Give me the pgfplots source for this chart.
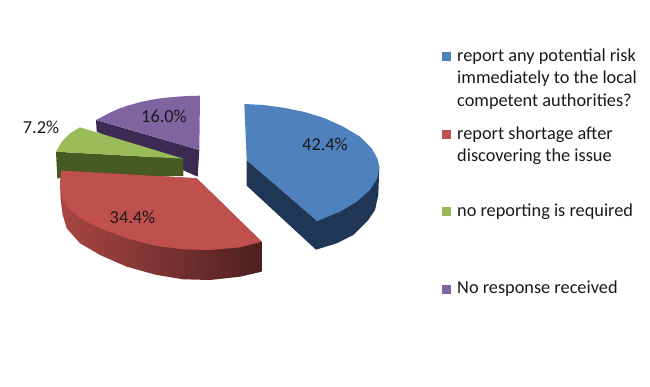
\documentclass[border=0pt]{standalone}
\usepackage{pgfplots}
\pgfplotsset{compat=1.18}
\usepackage{fontspec}
\setmainfont{Carlito}
\definecolor{cb}{HTML}{4F81BD}\definecolor{cbd}{HTML}{1F3654}
\definecolor{cr}{HTML}{C0504D}
\definecolor{cg}{HTML}{9BBB59}\definecolor{cgd}{HTML}{475A21}
\definecolor{cp}{HTML}{8064A2}\definecolor{cpd}{HTML}{3B2B53}
\definecolor{tx}{HTML}{1A1A1A}
\begin{document}
\begin{tikzpicture}
\useasboundingbox (0,0) rectangle (650pt,387pt);
\begin{axis}[at={(0,0)},anchor=south west,width=650pt,height=387pt,scale only axis,xmin=0,xmax=650,ymin=0,ymax=387,y dir=reverse,hide axis,clip=false,
  nodes={font=\fontsize{18.3}{18.3}\selectfont,text=tx}]
% purple
\addplot[draw=none,fill=cpd] coordinates {(96,120)(96.7,131.7)(197.7,176.7)(199.3,150)} --cycle;
\addplot[draw=none,fill=cp] coordinates {(200,95.7)(188,96)(176.7,96.7)(163,98)(150,100)(138,102.7)(126.7,106)(118,109)(110,112.7)(96,120)(199.3,150)} --cycle;
% green
\addplot[draw=none,fill=cgd] coordinates {(56,151.7)(57.3,178.3)(183.3,176)(183.3,158.7)} --cycle;
\addplot[draw=none,fill=cg] coordinates {(80,127.3)(70,133.3)(61.7,141.7)(56,151.7)(183.3,158.7)} --cycle;
% red
\addplot[draw=none,left color=cr!88!black,right color=cr!40!black] coordinates {(61.7,170.7)(60,183.3)(60.7,200)(62.7,215)(66.7,228.3)(80,243.3)(100,255)(126.7,266.7)(156.7,275)(183.3,279.3)(210,280)(240,276.7)(261.7,271.7)(261.7,241.7)(196.7,178.3)} --cycle;
\addplot[draw=none,fill=cr] coordinates {(61.7,170.7)(196.7,178.3)(261.7,241.7)(240,247.3)(210,250)(183.3,249.3)(156.7,246)(126.7,238.3)(100,228.3)(80,218.3)(66.7,206.7)(61.7,195)(60,183.3)} --cycle;
% blue
\addplot[draw=none,fill=cbd] coordinates {(246.7,160)(246.7,185.7)(316,249.7)(336.7,243.3)(353.3,235)(368.3,220)(375,210)(378.3,195)(379.3,166.7)(317.3,221)} --cycle;
\addplot[draw=none,fill=cb] coordinates {(244.3,104)(263.3,105)(283.3,107.7)(303.3,111.7)(323.3,117.7)(343.3,126.7)(360,136.7)(371.7,148.3)(377.3,158.3)(379.3,166.7)(377.3,178.3)(370,190)(356.7,201.7)(340,211.7)(317.3,221)(246.7,160)} --cycle;
% legend keys
\addplot[only marks,mark=square*,mark size=4pt,mark options={cb}] coordinates {(446,56)};
\addplot[only marks,mark=square*,mark size=4pt,mark options={cr}] coordinates {(446,134)};
\addplot[only marks,mark=square*,mark size=4pt,mark options={cg}] coordinates {(446,211)};
\addplot[only marks,mark=square*,mark size=4pt,mark options={cp}] coordinates {(446,289)};
% labels
\node[anchor=center] at (axis cs:325,144) {42.4\%};
\node[anchor=center] at (axis cs:132.5,217) {34.4\%};
\node[anchor=center] at (axis cs:41,127) {7.2\%};
\node[anchor=center] at (axis cs:164,116) {16.0\%};
\foreach \yy/\tt in {62/report any potential risk,84/immediately to the local,107/competent authorities?,140/report shortage after,162/discovering the issue,217/no reporting is required,294/No response received}{
\edef\temp{\noexpand\node[anchor=base west,inner sep=0pt] at (axis cs:457,\yy) {\tt};}\temp
}
\end{axis}
\end{tikzpicture}
\end{document}
